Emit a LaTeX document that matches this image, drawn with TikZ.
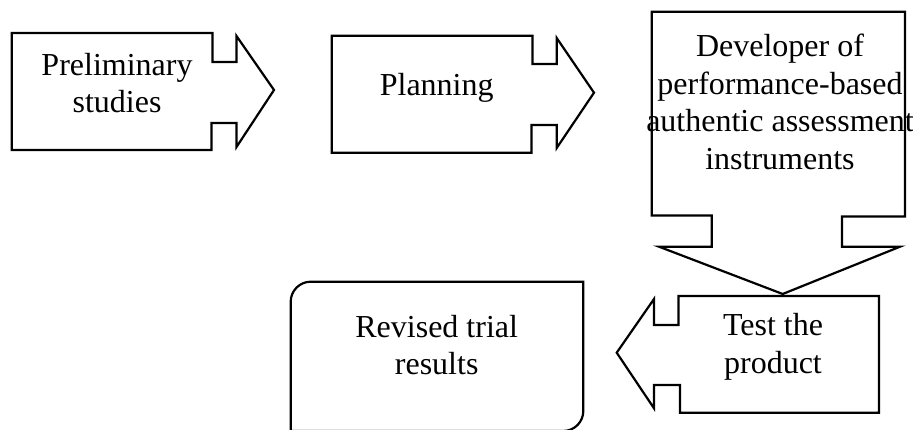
\documentclass[tikz,border=0pt]{standalone}
\usepackage{fontspec}
\setmainfont{Liberation Serif}
\begin{document}
\begin{tikzpicture}[x=1pt,y=-1pt,
  shapeline/.style={draw=black,line width=2.2pt,line join=miter},
  label/.style={align=center,inner sep=0pt,font=\fontsize{32}{37.5}\selectfont}]
\useasboundingbox (0,0) rectangle (913,430);
% Preliminary studies arrow
\draw[shapeline] (11.7,33) -- (212.5,33) -- (212.5,62) -- (236.5,62) -- (236.5,36) -- (274,90) -- (236.5,147) -- (236.5,123) -- (211.5,123) -- (211.5,150) -- (11.7,150) -- cycle;
\node[label] (prelim) at (117,83) {Preliminary\\studies};
% Planning arrow
\draw[shapeline] (331.7,35.7) -- (532.5,35.7) -- (532.5,64) -- (556.7,64) -- (556.7,38) -- (594,92.7) -- (556.7,148) -- (556.7,125) -- (531.5,125) -- (531.5,152.7) -- (331.7,152.7) -- cycle;
\node[label] (plan) at (436.7,88) {Planning};
% Developer down arrow
\draw[shapeline] (651.7,11.7) -- (905,11.7) -- (905,216.5) -- (842,216.5) -- (842,246.7) -- (900,246.7) -- (782.7,294) -- (659,246.7) -- (711.7,246.7) -- (711.7,215.5) -- (651.7,215.5) -- cycle;
\node[label] (dev) at (780,102) {Developer of\\performance-based\\authentic assessment\\instruments};
% Test the product left arrow
\draw[shapeline] (678.5,296) -- (879,296) -- (879,412.7) -- (680,412.7) -- (680,385) -- (654,385) -- (654,408.3) -- (616.7,352.7) -- (654,299) -- (654,325) -- (678.5,325) -- cycle;
\node[label] (test) at (773,347) {Test the\\product};
% Revised trial results box
\draw[shapeline] (290.7,432) -- (290.7,301.7) .. controls (290.7,290.7) and (299.7,281.7) .. (310.7,281.7) -- (583.3,281.7) -- (583.3,411) .. controls (583.3,422) and (574.3,431) .. (563.3,431) -- (290.7,431);
\node[label] (rev) at (436.7,345) {Revised trial\\results};
\end{tikzpicture}
\end{document}
